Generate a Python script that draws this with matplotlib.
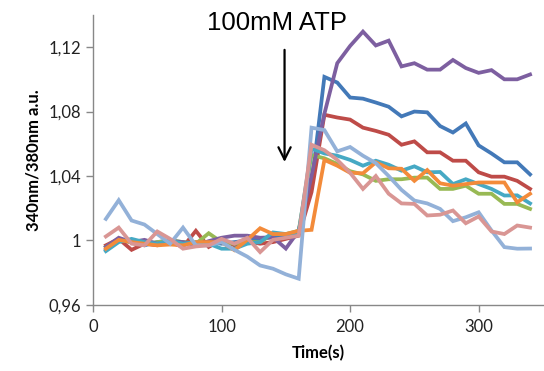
import matplotlib
matplotlib.use("Agg")
import matplotlib.pyplot as plt

# time points (s)
time = list(range(10, 350, 10))

# 340/380 ratio traces, one per cell
blue = [0.994, 1.0004, 0.999, 0.997, 0.999, 1.000, 0.999, 0.998, 0.999, 0.998,
        0.999, 1.000, 1.001, 1.002, 1.003, 1.006, 1.035, 1.1015, 1.098, 1.0887,
        1.088, 1.0856, 1.083, 1.077, 1.080, 1.0795, 1.071, 1.067, 1.0726, 1.059,
        1.054, 1.0485, 1.0485, 1.041]
red = [0.997, 1.001, 0.9942, 0.998, 0.997, 0.999, 0.996, 1.006, 0.996, 1.0004,
       0.997, 0.9995, 0.998, 0.999, 1.001, 1.003, 1.030, 1.078, 1.0763, 1.075,
       1.070, 1.068, 1.0656, 1.0594, 1.0615, 1.0547, 1.0547, 1.0495, 1.0495, 1.0423,
       1.0396, 1.0396, 1.037, 1.032]
green = [0.996, 1.0004, 0.999, 0.998, 0.999, 1.000, 0.999, 0.998, 1.0045, 0.999,
         0.998, 0.999, 0.999, 1.004, 1.004, 1.006, 1.053, 1.051, 1.0475, 1.043,
         1.041, 1.037, 1.038, 1.038, 1.039, 1.039, 1.032, 1.032, 1.034, 1.029,
         1.029, 1.0227, 1.0227, 1.0196]
purple = [0.996, 1.0017, 0.999, 1.0004, 0.998, 0.9996, 0.999, 0.997, 0.9996, 1.0017,
          1.003, 1.003, 1.0017, 1.002, 0.995, 1.006, 1.040, 1.0786, 1.110, 1.1207,
          1.1296, 1.121, 1.124, 1.108, 1.110, 1.106, 1.106, 1.112, 1.107, 1.104,
          1.1057, 1.100, 1.100, 1.103]
teal = [0.9934, 0.999, 1.001, 0.999, 0.998, 1.000, 0.998, 0.999, 0.998, 0.9949,
        0.9949, 0.998, 0.999, 1.005, 1.004, 1.005, 1.057, 1.054, 1.0526, 1.050,
        1.0464, 1.0495, 1.047, 1.0433, 1.046, 1.0423, 1.0425, 1.035, 1.038, 1.035,
        1.032, 1.0279, 1.028, 1.023]
orange = [0.9949, 1.0004, 0.999, 0.998, 0.997, 0.9975, 0.997, 0.999, 0.999, 0.999,
          0.994, 1.0004, 1.0076, 1.004, 1.004, 1.006, 1.0066, 1.050, 1.0464, 1.042,
          1.0417, 1.0485, 1.0448, 1.0445, 1.037, 1.0437, 1.0355, 1.034, 1.035, 1.036,
          1.036, 1.036, 1.0237, 1.029]
lightblue = [1.0134, 1.025, 1.0124, 1.0099, 1.004, 0.998, 1.008, 0.997, 0.997, 0.999,
             0.9942, 0.990, 0.9845, 0.9825, 0.979, 0.9763, 1.070, 1.0685, 1.0553, 1.058,
             1.0526, 1.048, 1.040, 1.0314, 1.0248, 1.023, 1.0196, 1.012, 1.0144, 1.0175,
             1.0062, 0.9959, 0.9949, 0.995]
pink = [1.0025, 1.008, 0.998, 0.997, 1.0056, 1.001, 0.9949, 0.9963, 0.997, 1.001,
        0.998, 1.0017, 0.9928, 1.0004, 1.0017, 1.003, 1.0594, 1.056, 1.050, 1.042,
        1.032, 1.040, 1.029, 1.023, 1.0227, 1.0155, 1.016, 1.0186, 1.0107, 1.0149,
        1.0056, 1.004, 1.0093, 1.008]

series = [blue, red, green, purple, teal, orange, lightblue, pink]
colors = ["#4379B8", "#BE4B48", "#98B954", "#7D5FA0", "#46A9C4", "#F38B3A",
          "#93B1D8", "#D99694"]

yticks = [0.96, 1.0, 1.04, 1.08, 1.12]
ytick_labels = ["0,96", "1", "1,04", "1,08", "1,12"]
xticks = [0, 100, 200, 300]

fig = plt.figure(figsize=(5.44, 3.71), dpi=100)
ax = fig.add_axes([0.171, 0.178, 0.827, 0.782])

for vals, c in zip(series, colors):
    ax.plot(time, vals, color=c, lw=2.7, solid_joinstyle="miter")

ax.set_xlim(0, 350)
ax.set_ylim(0.96, 1.14)
ax.set_xticks(xticks)
ax.set_yticks(yticks)
ax.set_yticklabels(ytick_labels)

for s in ["top", "right"]:
    ax.spines[s].set_visible(False)
for s in ["left", "bottom"]:
    ax.spines[s].set_color("#888888")
    ax.spines[s].set_linewidth(1.0)
ax.tick_params(colors="#888888", length=5, width=1.0, labelcolor="#222222",
               labelsize=12)
ax.tick_params(axis="x", pad=5)
for lab in ax.get_xticklabels() + ax.get_yticklabels():
    lab.set_family("Lato")

ax.set_xlabel("Time(s)", fontsize=12, fontweight="bold", family="Lato", labelpad=7)
ax.set_ylabel("340nm/380nm a.u.", fontsize=12, fontweight="bold", family="Lato",
              labelpad=5)

# stimulus annotation
ax.annotate("", xy=(149, 1.047), xytext=(149, 1.120),
            arrowprops=dict(arrowstyle="->", color="black", lw=1.6,
                            mutation_scale=22))
ax.text(143, 1.135, "100mM ATP", fontsize=18.5, family="Liberation Sans",
        ha="center", va="center", clip_on=False)

fig.savefig("out.png", dpi=100)
